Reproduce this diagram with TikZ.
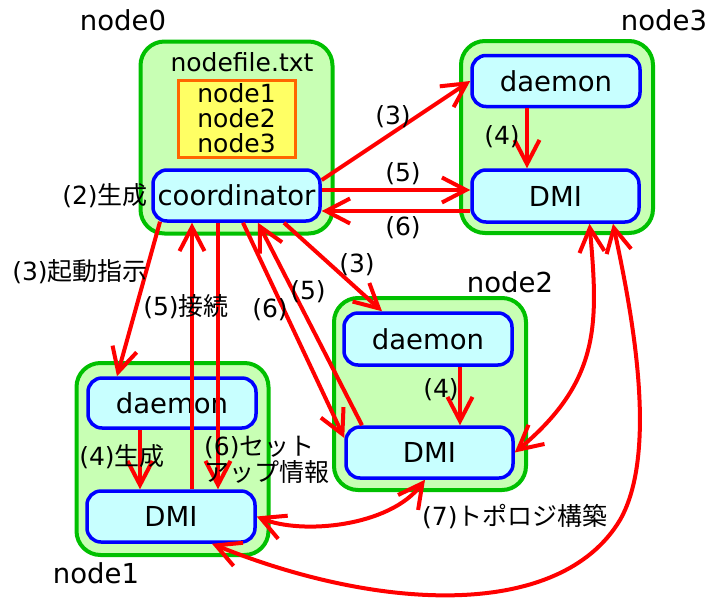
\documentclass[tikz,border=0pt]{standalone}
\usepackage{fontspec}
\setmainfont{DejaVu Sans}
\newfontfamily\jp{Noto Sans CJK JP}
\usetikzlibrary{arrows.meta}
\definecolor{gfill}{RGB}{200,255,180}
\definecolor{gline}{RGB}{0,192,0}
\definecolor{cfill}{RGB}{200,255,255}
\definecolor{bline}{RGB}{0,0,255}
\definecolor{yfill}{RGB}{255,255,100}
\definecolor{oline}{RGB}{255,102,0}
\definecolor{rline}{RGB}{255,0,0}
\begin{document}
\begin{tikzpicture}[x=1pt,y=-1pt,
  font=\fontsize{25}{25}\selectfont,
  big/.style={font=\fontsize{27.5}{28}\selectfont},
  hostbox/.style={draw=gline,fill=gfill,line width=4pt,rounded corners=24pt,
    minimum width=192pt,minimum height=192pt,inner sep=0pt},
  procbox/.style={big,draw=bline,fill=cfill,line width=3.5pt,rounded corners=14pt,
    minimum width=168pt,minimum height=51pt,inner sep=0pt},
  filebox/.style={draw=oline,fill=yfill,line width=3pt,
    minimum width=117pt,minimum height=77pt,inner sep=0pt,align=center},
  lbl/.style={inner sep=0pt},
  hostlbl/.style={big,inner sep=0pt},
  tip/.tip={Straight Barb[length=24pt,width=25pt]},
  arr/.style={draw=rline,line width=4pt,-tip},
  twoway/.style={draw=rline,line width=4pt,tip-tip},
]
\useasboundingbox (0,0) rectangle (710,598);

% host boxes
\node[hostbox] (g0) at (236.5,137.5) {};
\node[hostbox] (g3) at (557,137) {};
\node[hostbox] (g2) at (430,394) {};
\node[hostbox] (g1) at (172.5,459) {};

% host names
\node[hostlbl] (n0) at (123,20) {node0};
\node[hostlbl] (n3) at (664,20) {node3};
\node[hostlbl] (n2) at (510,282) {node2};
\node[hostlbl] (n1) at (96,573) {node1};

% node0 content
\node[lbl] (fname) at (242,62) {nodefile.txt};
\node[filebox] (file) at (236.5,118.5) {node1\\node2\\node3};
\node[procbox,minimum width=167pt] (coord) at (236.5,195.5) {coordinator};

% node3
\node[procbox] (d3) at (556,81) {daemon};
\node[procbox,minimum width=167pt,minimum height=52pt] (m3) at (555.5,196) {DMI};
% node2
\node[procbox,minimum height=52pt] (d2) at (428,339) {daemon};
\node[procbox,minimum width=167pt] (m2) at (429.5,452.5) {DMI};
% node1
\node[procbox,minimum height=50pt] (d1) at (172,403) {daemon};
\node[procbox] (m1) at (171,516.5) {DMI};

% arrows to node3
\draw[arr] ([yshift=15.5pt]coord.east) -- (d3.west);
\draw[arr] ([yshift=5.5pt]coord.east) -- ([yshift=6pt]m3.west);
\draw[arr] ([yshift=-15pt]m3.west) -- ([yshift=-15.5pt]coord.east);
\draw[arr] ([xshift=-29pt]d3.south) -- ([xshift=-28.5pt]m3.north);

% arrows to node2
\draw[arr] ([xshift=47.5pt]coord.south) -- ([xshift=-46pt]d2.north);
\draw[arr] ([xshift=6.5pt]coord.south) -- ([yshift=14.5pt]m2.west);
\draw[arr] ([xshift=-67.5pt]m2.north) -- ([xshift=21.5pt]coord.south);
\draw[arr] ([xshift=32pt]d2.south) -- ([xshift=30.5pt]m2.north);

% arrows to node1
\draw[arr] ([xshift=-76.5pt,yshift=1pt]coord.south) -- ([xshift=-55pt]d1.north);
\draw[arr] ([xshift=-32pt]d1.south) -- ([xshift=-31pt]m1.north);
\draw[arr] ([xshift=21pt]m1.north) -- ([xshift=-44.5pt]coord.south);
\draw[arr] ([xshift=-18.5pt]coord.south) -- ([xshift=47pt]m1.north);

% topology
\draw[twoway] (m1.east) .. controls +(45,18.5) and +(-35,47) .. ([xshift=-4.5pt]m2.south);
\draw[twoway] ([xshift=34pt]m3.south) .. controls +(8.5,98) and +(87,-72.5) .. (m2.east);
\coordinate (loopc) at (620,520);
\draw[twoway] ([xshift=57.5pt]m3.south) .. controls +(17,80) and +(40,-70) .. (loopc)
   .. controls +(-60,100) and +(168,68) .. ([xshift=41pt]m1.south);

% labels
\node[lbl] (l2) at (105,196) {(2){\jp 生成}};
\node[lbl] (l3a) at (80,272) {(3){\jp 起動指示}};
\node[lbl] (l5a) at (186,307) {(5){\jp 接続}};
\node[lbl] (l6b) at (270,310) {(6)};
\node[lbl] (l5b) at (308,292) {(5)};
\node[lbl] (l3b) at (357,265) {(3)};
\node[lbl] (l3c) at (393,117) {(3)};
\node[lbl] (l5c) at (403,174) {(5)};
\node[lbl] (l6c) at (403,228) {(6)};
\node[lbl] (l4c) at (502,137) {(4)};
\node[lbl] (l4b) at (441,390) {(4)};
\node[lbl] (l4a) at (122,457) {(4){\jp 生成}};
\node[lbl,anchor=west,align=left,font=\fontsize{25}{26}\selectfont] (l6a) at (204,460) {(6){\jp セット}\\{\jp アップ情報}};
\node[lbl,anchor=west] (l7) at (422,517) {(7){\jp トポロジ構築}};
\end{tikzpicture}
\end{document}
